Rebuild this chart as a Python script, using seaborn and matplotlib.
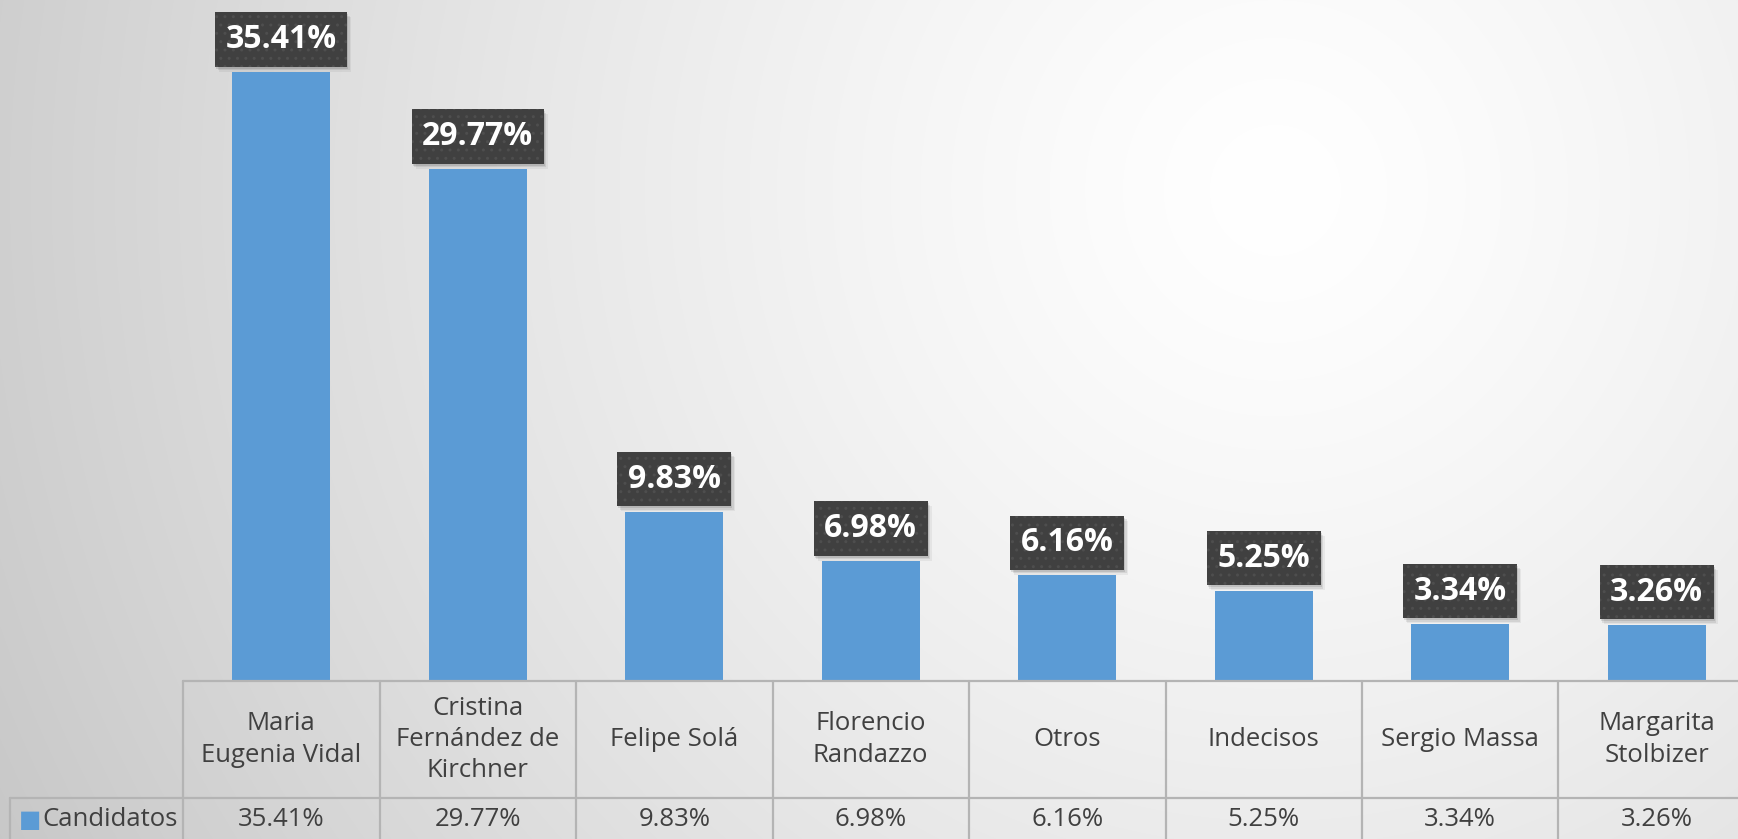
import numpy as np
import pandas as pd
import matplotlib
matplotlib.use("Agg")
import matplotlib.pyplot as plt
from matplotlib.patches import Rectangle
from matplotlib.transforms import IdentityTransform
import seaborn as sns

candidatos = ["Maria\nEugenia Vidal", "Cristina\nFernández de\nKirchner", "Felipe Solá",
              "Florencio\nRandazzo", "Otros", "Indecisos", "Sergio Massa",
              "Margarita\nStolbizer"]
valores = [35.41, 29.77, 9.83, 6.98, 6.16, 5.25, 3.34, 3.26]
serie = "Candidatos"

df = pd.DataFrame({"cand": candidatos, "val": valores})

sns.set_style("white")
plt.rcParams["font.family"] = ["Open Sans", "DejaVu Sans"]

W, H = 1738, 839
fig = plt.figure(figsize=(W / 100, H / 100), dpi=100)

# radial grey background
bg = fig.add_axes([0, 0, 1, 1], zorder=-5)
yy, xx = np.mgrid[0:H, 0:W]
d = np.hypot(xx - 1275, yy - 190)
t = np.clip(d / 1450, 0, 1)
g = 1 - 0.22 * t ** 1.3
bg.imshow(np.dstack([g, g, g]), extent=(0, W, H, 0), aspect="auto")
bg.set_axis_off()

# chart area: columns 196.5 px wide, starting at x=183, axis bottom at y=681
left, colw, base = 183, 196.5, 681
ax = fig.add_axes([left / W, (H - base) / H, 8 * colw / W, base / H])
ax.patch.set_alpha(0)
sns.barplot(data=df, x="cand", y="val", color="#5B9BD5", width=0.5,
            saturation=1, linewidth=0, ax=ax, zorder=3)
ax.set_xlim(-0.5, 7.5)
ax.set_ylim(0, base / 17.2)
ax.set_axis_off()

labels = []
for i, v in enumerate(valores):
    txt = ax.annotate(f"{v:.2f}%", (i, v), xytext=(0, 11.5), textcoords="offset points",
                      ha="center", va="bottom", fontsize=23, fontweight="bold",
                      color="white", zorder=5,
                      bbox=dict(boxstyle="square,pad=0.33", fc="#404040", ec="#4e4e4e",
                                lw=0, hatch=".."))
    labels.append(txt)

# data table under the bars
tab = fig.add_axes([left / W, 0, 8 * colw / W, (H - base) / H], sharex=ax)
tab.patch.set_alpha(0)
tab.set_ylim(0, H - base)
tab.set_axis_off()
lc, lw = "#b4b4b4", 1.6
top, mid = H - base, H - 798
xleg = (10 - left) / colw - 0.5
tab.plot([-0.5, 7.5], [top, top], color=lc, lw=lw, clip_on=False)
tab.plot([xleg, 7.5], [mid, mid], color=lc, lw=lw, clip_on=False)
tab.plot([xleg, xleg], [0, mid], color=lc, lw=lw, clip_on=False)
for k in range(9):
    tab.plot([k - 0.5, k - 0.5], [0, top], color=lc, lw=lw, clip_on=False)

for i, (c, v) in enumerate(zip(candidatos, valores)):
    tab.text(i, (top + mid) / 2, c, ha="center", va="center", fontsize=18.5,
             color="#404040", linespacing=1.32)
    tab.text(i, mid / 2 - 1, f"{v:.2f}%", ha="center", va="center", fontsize=18.5,
             color="#404040")

tab.text(xleg + 9 / colw, mid / 2 - 1, "■", ha="left", va="center",
         fontsize=17, color="#5B9BD5", clip_on=False, family="DejaVu Sans")
tab.text(xleg + 32 / colw, mid / 2 - 1, serie, ha="left", va="center",
         fontsize=18.5, color="#404040", clip_on=False)

# soft shadow behind the value boxes
fig.canvas.draw()
for txt in labels:
    bb = txt.get_bbox_patch().get_window_extent()
    for k, a in [(5, 0.05), (3.5, 0.08), (2, 0.1)]:
        ax.add_patch(Rectangle((bb.x0 + k - 1, bb.y0 - k), bb.width, bb.height,
                               transform=IdentityTransform(), fc="black", ec="none",
                               alpha=a, zorder=4, clip_on=False))

fig.savefig("out.png", dpi=100)
